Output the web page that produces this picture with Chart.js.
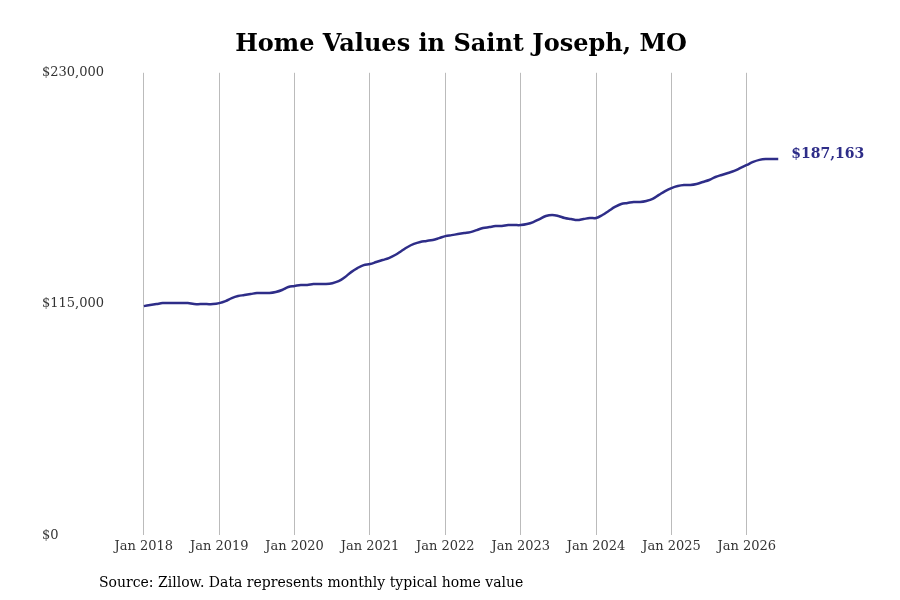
<!DOCTYPE html>
<html>
<head>
<meta charset="utf-8">
<script src="https://cdn.jsdelivr.net/npm/chart.js@4"></script>
<style>
  html, body { margin: 0; padding: 0; background: #fff; }
  #wrap { width: 900px; height: 600px; position: relative; }
</style>
</head>
<body>
<div id="wrap"><canvas id="chart"></canvas></div>
<script>
// monthly typical home value, Jan 2018 .. Jun 2026
const startYear = 2018;
const values = [
  114000, 114500, 115000, 115500, 115500, 115500, 115500, 115500, 115000, 115000, 115000, 115000,
  115500, 116500, 118000, 119000, 119500, 120000, 120500, 120500, 120500, 121000, 122000, 123500,
  124000, 124500, 124500, 125000, 125000, 125000, 125400, 126400, 128400, 130900, 132900, 134400,
  134900, 135900, 136900, 137900, 139400, 141400, 143400, 144900, 145900, 146400, 146900, 147800,
  148800, 149300, 149800, 150300, 150800, 151800, 152800, 153300, 153800, 153800, 154300, 154300,
  154300, 154800, 155800, 157300, 158800, 159300, 158800, 157800, 157300, 156800, 157300, 157800,
  157800, 159300, 161300, 163300, 164800, 165300, 165800, 165800, 166300, 167300, 169300, 171200,
  172700, 173700, 174200, 174200, 174700, 175700, 176700, 178200, 179200, 180200, 181200, 182700,
  184200, 185700, 186700, 187163, 187163, 187163
];
const yTicks = [0, 115000, 230000];
const xTickYears = [2018, 2019, 2020, 2021, 2022, 2023, 2024, 2025, 2026];
const lastLabel = '$187,163';
const sourceText = 'Source: Zillow. Data represents monthly typical home value';

const lineColor = '#2e2d88';
const points = values.map((v, i) => ({ x: i, y: v }));

const extras = {
  id: 'extras',
  afterDraw(chart) {
    const ctx = chart.ctx;
    const xs = chart.scales.x, ys = chart.scales.y;
    const last = points[points.length - 1];
    ctx.save();
    ctx.fillStyle = lineColor;
    ctx.font = 'bold 14px "DejaVu Serif"';
    ctx.textBaseline = 'middle';
    ctx.fillText(lastLabel, xs.getPixelForValue(last.x) + 13, ys.getPixelForValue(last.y) - 5);
    ctx.fillStyle = '#000';
    ctx.font = '14px "DejaVu Serif"';
    ctx.textBaseline = 'alphabetic';
    ctx.fillText(sourceText, 99, 587);
    ctx.restore();
  }
};

new Chart(document.getElementById('chart'), {
  type: 'line',
  plugins: [extras],
  data: {
    datasets: [{
      data: points,
      borderColor: lineColor,
      borderWidth: 2.5,
      pointRadius: 0,
      tension: 0.4,
      fill: false
    }]
  },
  options: {
    responsive: true,
    maintainAspectRatio: false,
    animation: false,
    layout: { padding: { left: 42, right: 20, top: 20, bottom: 43 } },
    plugins: {
      legend: { display: false },
      tooltip: { enabled: false },
      title: {
        display: true,
        text: 'Home Values in Saint Joseph, MO',
        color: '#000',
        font: { family: 'DejaVu Serif', size: 24, weight: 'bold' },
        padding: { top: 10, bottom: 14 }
      }
    },
    scales: {
      x: {
        type: 'linear',
        min: -3.8,
        max: 117.2,
        afterBuildTicks: s => { s.ticks = xTickYears.map(y => ({ value: (y - startYear) * 12 })); },
        ticks: {
          callback: v => 'Jan ' + (startYear + Math.round(v / 12)),
          color: '#333',
          font: { family: 'DejaVu Serif', size: 13 },
          maxRotation: 0,
          autoSkip: false
        },
        grid: { color: '#bbb', drawTicks: false },
        border: { display: false }
      },
      y: {
        min: 0,
        max: 230000,
        afterBuildTicks: s => { s.ticks = yTicks.map(v => ({ value: v })); },
        afterFit: s => { s.width = 78; },
        ticks: {
          callback: v => '$' + v.toLocaleString('en-US'),
          color: '#333',
          crossAlign: 'far',
          font: { family: 'DejaVu Serif', size: 13 }
        },
        grid: { display: false },
        border: { display: false }
      }
    }
  }
});
</script>
</body>
</html>
